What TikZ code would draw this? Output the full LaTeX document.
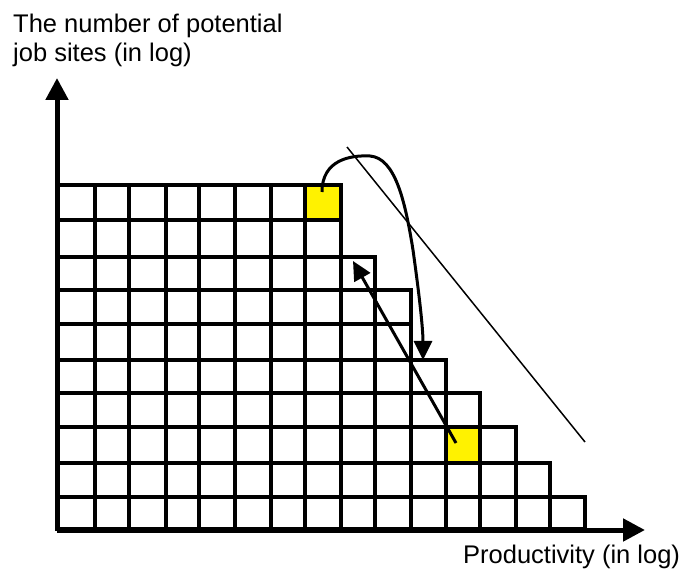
\documentclass[tikz,border=0pt]{standalone}
\usepackage{fontspec}
\setmainfont{Liberation Sans}
\usetikzlibrary{arrows.meta}
\tikzset{
  cell/.style={draw=black, line width=3.4pt},
  thickrule/.style={draw=black, line width=4.2pt},
  hilite/.style={fill=yellow},
  axisline/.style={draw=black, line width=5pt, -{Triangle[length=22pt,width=22pt]}},
  movearrow/.style={draw=black, line width=3pt, -{Triangle[length=19pt,width=18pt]}},
  frontier/.style={draw=black, line width=1.5pt},
  lbl/.style={inner sep=0pt, font=\fontsize{25.5}{29}\selectfont, align=left}
}
\begin{document}
\begin{tikzpicture}[x=1pt, y=-1pt]
\useasboundingbox (0,0) rectangle (683,569);
% highlighted cells
\fill[hilite] (305,185) rectangle (341,220);
\fill[hilite] (446,427) rectangle (480,463);
% staircase grid
\foreach \ya/\yb/\n in {185/220/8, 220/257/8, 257/290/9, 290/324/10, 324/360/10, 360/393/11, 393/427/12, 427/463/13, 463/497/14, 497/529/15}{
  \foreach \c/\xa/\xb in {1/57/95, 2/95/129, 3/129/166, 4/166/199, 5/199/235, 6/235/271, 7/271/305, 8/305/341, 9/341/375, 10/375/411, 11/411/446, 12/446/480, 13/480/516, 14/516/550, 15/550/585}{
    \ifnum\c>\n\relax\else
      \draw[cell] (\xa,\ya) rectangle (\xb,\yb);
    \fi
  }
}
% heavier rules seen in the reference
\draw[thickrule] (57,185) -- (341,185);
\draw[thickrule] (57,324) -- (411,324);
\draw[thickrule] (57,497) -- (585,497);
% axes
\coordinate (O) at (57,530);
\coordinate (Ytip) at (57,78);
\coordinate (Xtip) at (645,530);
\draw[axisline] (O) -- (Ytip);
\draw[axisline] (O) -- (Xtip);
% labels
\node[lbl, anchor=north west] (ylabel) at (13,14) {The number of potential\\job sites (in log)};
\node[lbl, anchor=base west] (xlabel) at (463,563) {Productivity (in log)};
% frontier line
\coordinate (F1) at (347,147);
\coordinate (F2) at (585,442);
\draw[frontier] (F1) -- (F2);
% curved move arrow
\coordinate (cs) at (322,192);
\coordinate (ce) at (423,360);
\draw[movearrow] (cs) .. controls (322,160) and (350,155) .. (370,156)
  .. controls (395,158) and (405,200) .. (413,250)
  .. controls (420,300) and (423,330) .. (ce);
% straight move arrow
\coordinate (ss) at (456,443);
\coordinate (se) at (353,261);
\draw[movearrow] (ss) -- (se);
\end{tikzpicture}
\end{document}
